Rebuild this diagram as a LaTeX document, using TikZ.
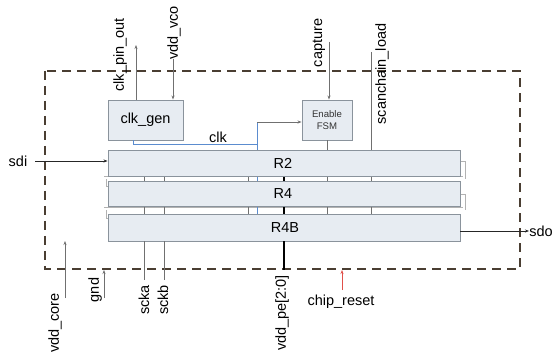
\documentclass[tikz,border=0pt]{standalone}
\usepackage{fontspec}
\setmainfont{Liberation Sans}
\usetikzlibrary{arrows.meta,calc}
\definecolor{boxfill}{HTML}{E7ECF2}
\definecolor{boxdraw}{HTML}{8A939C}
\definecolor{clkblue}{HTML}{5B8CCF}
\definecolor{dashbrown}{HTML}{4A3E32}
\definecolor{wire}{HTML}{707070}
\definecolor{rst}{HTML}{E0504A}
\begin{document}
\begin{tikzpicture}[x=1pt,y=-1pt,
  blk/.style={draw=boxdraw,fill=boxfill,line width=0.9pt,inner sep=0pt},
  lbl/.style={font=\fontsize{14.5}{15}\selectfont,inner sep=0pt},
  vlbl/.style={lbl,rotate=90},
  wireline/.style={draw=wire,line width=0.7pt},
  arr/.style={-{Stealth[length=4pt,width=3pt]}},
  chain/.style={draw=gray!60,line width=0.7pt,double=white,double distance=1.6pt}]
\useasboundingbox[fill=white] (0,0) rectangle (556,352);

% boundary
\draw[dashbrown,line width=1.1pt,dash pattern=on 9pt off 6pt] (45,71) rectangle (520,269);

% scan chain wrap (behind registers)
\draw[chain] (455,163) -- (464,163) -- (464,178) -- (105,178) -- (105,188) -- (112,188);
\draw[chain] (455,196) -- (464,196) -- (464,209) -- (105,209) -- (105,220) -- (112,220);

% lines through registers
\foreach \xx in {144,164,248,327,371}
  \draw[wireline] (\xx,150) -- (\xx,241);
\draw[clkblue,line width=0.7pt] (257,150) -- (257,214);
\draw[black,line width=1.6pt] (284,176) -- (284,241);

% blocks
\node[blk,minimum width=75pt,minimum height=40pt,lbl] (clkgen) at (145.5,120) {clk\_gen};
\node[blk,minimum width=50pt,minimum height=40pt,align=center,font=\fontsize{9.6}{12}\selectfont,text=black!80] (fsm) at (327,120) {Enable\\FSM};
\node[blk,minimum width=352pt,minimum height=26pt] (R2) at (284,163) {};
\node[blk,minimum width=352pt,minimum height=25pt] (R4) at (284,193.5) {};
\node[blk,minimum width=352pt,minimum height=27pt] (R4B) at (284,227.5) {};
\node[lbl] (R2l) at (283,163) {R2};
\node[lbl] (R4l) at (283,193.5) {R4};
\node[lbl] (R4Bl) at (285,227.5) {R4B};

% top signals
\coordinate (cpo) at (136,45);
\draw[wireline,arr] (clkgen.north -| cpo) -- (cpo);
\node[vlbl] (cpol) at (120,55) {clk\_pin\_out};
\coordinate (vco) at (173,59);
\draw[wireline,arr] (vco) -- (vco |- clkgen.north);
\node[vlbl] (vcol) at (174,33) {vdd\_vco};
\coordinate (cap) at (329,42);
\draw[wireline,arr] (cap) -- (cap |- fsm.north);
\node[vlbl] (capl) at (319,43) {capture};
\coordinate (scl) at (371,52);
\draw[wireline] (scl) -- (scl |- R2.north);
\node[vlbl] (scll) at (382,74) {scanchain\_load};

% clk
\coordinate (ck1) at (133,144);
\coordinate (ck2) at (257,144);
\coordinate (ck3) at (257,122);
\draw[clkblue,line width=0.7pt] (ck1 |- clkgen.south) -- (ck1) -- (ck2) -- (257,150);
\draw[clkblue,line width=0.7pt] (ck2) -- (ck3);
\draw[wireline,arr] (ck3) -- (ck3 -| fsm.west);
\node[lbl] (clkl) at (218,137) {clk};
\draw[wireline] (fsm.south) -- (fsm.south |- R2.north);

% sdi / sdo
\node[lbl] (sdil) at (18,161) {sdi};
\coordinate (sdi) at (35,161);
\draw[black!85,line width=0.6pt,arr] (sdi) -- (sdi -| R2.west);
\coordinate (sdo) at (529,231);
\draw[black!85,line width=0.6pt,arr] (R4B.east |- sdo) -- (sdo);
\node[lbl] (sdol) at (541,231) {sdo};

% bottom signals
\coordinate (sca) at (144,280);
\coordinate (scb) at (164,280);
\draw[wireline] (sca |- R4B.south) -- (sca);
\draw[wireline] (scb |- R4B.south) -- (scb);
\node[vlbl] (scal) at (144,300) {scka};
\node[vlbl] (scbl) at (163,300) {sckb};
\coordinate (vpe) at (284,270);
\draw[black,line width=1.6pt] (vpe |- R4B.south) -- (vpe);
\node[vlbl] (vpel) at (282,313) {vdd\_pe[2:0]};
\coordinate (vc0) at (65,298);
\coordinate (vc1) at (65,241);
\draw[wireline,arr] (vc0) -- (vc1);
\node[vlbl] (vcl) at (55,323) {vdd\_core};
\coordinate (g0) at (104,298);
\coordinate (g1) at (104,270);
\draw[wireline,arr] (g0) -- (g1);
\node[vlbl] (gl) at (95,290) {gnd};
\coordinate (r0) at (342,290);
\coordinate (r1) at (342,270);
\draw[rst,line width=0.6pt,arr] (r0) -- (r1);
\node[lbl] (rl) at (341,302) {chip\_reset};
\end{tikzpicture}
\end{document}
